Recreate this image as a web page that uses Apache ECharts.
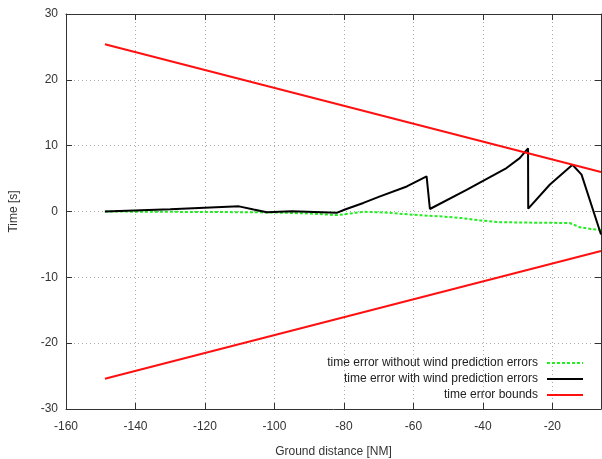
<!DOCTYPE html>
<html><head><meta charset="utf-8">
<script src="https://cdn.jsdelivr.net/npm/echarts@6/dist/echarts.min.js"></script>
<style>html,body{margin:0;padding:0;background:#fff}#c{width:602px;height:459px}</style>
</head><body><div id="c"></div>
<script>
// Data
var noWindX = [-148.8, -130, -110, -100, -90, -82.1, -78, -74.4, -68, -63.9, -60, -52.4, -46, -40.9, -35.1, -25, -15.0, -12.1, -9, -6];
var noWindY = [0.0, -0.05, -0.1, -0.15, -0.3, -0.55, -0.3, -0.05, -0.15, -0.33, -0.5, -0.74, -1.0, -1.35, -1.62, -1.7, -1.75, -2.4, -2.65, -2.8];
var windX = [-148.8, -130, -110.2, -106, -102.2, -95, -82.1, -79.7, -74.4, -69.6, -61.9, -56.2, -55.25, -44.7, -33.2, -29.4, -27.0, -26.95, -20.7, -14.2, -11.6, -6];
var windY = [0.0, 0.35, 0.78, 0.3, -0.1, 0.05, -0.2, 0.3, 1.3, 2.3, 3.8, 5.35, 0.38, 3.3, 6.6, 8.1, 9.6, 0.43, 4.1, 7.1, 5.6, -3.5];
var boundX = [-148.8, -6];
var boundUpperY = [25.4, 6.0];
var boundLowerY = [-25.4, -6.0];
var seriesNames = ['time error without wind prediction errors', 'time error with wind prediction errors', 'time error bounds'];
var xTickMin = -160, xTickMax = -6, xTickStep = 20;
var yTickMin = -30, yTickMax = 30, yTickStep = 10;

function pairs(xs, ys){ return xs.map(function(x,i){return [x, ys[i]];}); }

var font = 'Liberation Sans, Arial, sans-serif';
var frameColor = '#333';
var gridLine = {show:true, lineStyle:{color:'#aaa', type:[1,3], width:1}};
function xAx(pos, labels){
  return {type:'value', position:pos, min:xTickMin, max:xTickMax, interval:xTickStep,
    axisLine:{show:true, onZero:false, lineStyle:{color:frameColor, width:1}},
    axisTick:{show:true, inside:true, length:6, lineStyle:{color:frameColor}},
    axisLabel:{show:labels, showMaxLabel:false, color:'#333', fontFamily:font, fontSize:12, margin:12},
    splitLine: labels ? gridLine : {show:false},
    name: labels ? 'Ground distance [NM]' : '', nameLocation:'middle', nameGap:37,
    nameTextStyle:{color:'#333', fontFamily:font, fontSize:12}};
}
function yAx(pos, labels){
  return {type:'value', position:pos, min:yTickMin, max:yTickMax, interval:yTickStep,
    axisLine:{show:true, onZero:false, lineStyle:{color:frameColor, width:1}},
    axisTick:{show:true, inside:true, length:6, lineStyle:{color:frameColor}},
    axisLabel:{show:labels, color:'#333', fontFamily:font, fontSize:12, margin:8},
    splitLine: labels ? gridLine : {show:false},
    name: labels ? 'Time [s]' : '', nameLocation:'middle', nameGap:46, nameRotate:90,
    nameTextStyle:{color:'#333', fontFamily:font, fontSize:12}};
}
var chart = echarts.init(document.getElementById('c'), null, {renderer:'canvas'});
chart.setOption({
  animation:false,
  backgroundColor:'#fff',
  grid:{left:66, right:1, top:14, bottom:50, containLabel:false, outerBoundsMode:'none'},
  xAxis:[xAx('bottom', true), xAx('top', false)],
  yAxis:[yAx('left', true), yAx('right', false)],
  legend:{orient:'vertical', right:13, bottom:53, align:'right', itemWidth:36, itemHeight:14, itemGap:4,
    itemStyle:{opacity:0, borderWidth:0},
    textStyle:{color:'#222', fontFamily:font, fontSize:12, padding:[0,4,0,0]},
    data:seriesNames},
  series:[
    {name:seriesNames[0], type:'line', data:pairs(noWindX, noWindY), showSymbol:false, symbol:'none', z:2,
      lineStyle:{color:'#22ee22', width:2, type:[3,2]}, itemStyle:{color:'#22ee22'}},
    {name:seriesNames[1], type:'line', data:pairs(windX, windY), showSymbol:false, symbol:'none', z:3,
      lineStyle:{color:'#000', width:2}, itemStyle:{color:'#000'}},
    {name:seriesNames[2], type:'line', data:pairs(boundX, boundUpperY), showSymbol:false, symbol:'none', z:4,
      lineStyle:{color:'#ff1010', width:2}, itemStyle:{color:'#ff1010'}},
    {name:seriesNames[2], type:'line', data:pairs(boundX, boundLowerY), showSymbol:false, symbol:'none', z:4,
      lineStyle:{color:'#ff1010', width:2}, itemStyle:{color:'#ff1010'}}
  ]
});
</script></body></html>
